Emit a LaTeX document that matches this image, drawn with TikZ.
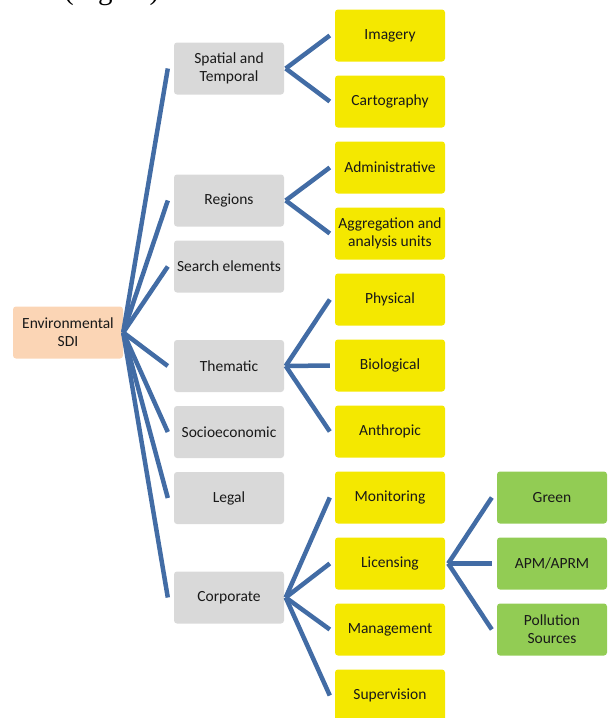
\documentclass[tikz,border=0pt]{standalone}
\usepackage{fontspec}
\setmainfont{Carlito}
\newfontfamily\captionserif{Liberation Serif}
\definecolor{rootfill}{RGB}{251,213,181}
\definecolor{catfill}{RGB}{217,217,217}
\definecolor{subfill}{RGB}{244,232,0}
\definecolor{leaffill}{RGB}{146,204,84}
\definecolor{linkblue}{RGB}{66,108,165}
\definecolor{labeltext}{RGB}{25,25,25}
\begin{document}
\begin{tikzpicture}[x=1pt,y=-1pt,
  box/.style={rectangle, rounded corners=3pt, minimum width=110pt, minimum height=52pt,
    inner sep=1pt, align=center, text=labeltext,
    font=\fontsize{15.5}{18}\selectfont},
  rootbox/.style={box, fill=rootfill},
  catbox/.style={box, fill=catfill},
  subbox/.style={box, fill=subfill},
  leafbox/.style={box, fill=leaffill},
  link/.style={draw=linkblue, line width=4.5pt}
]
\useasboundingbox (0,0) rectangle (608,718);
\clip (0,0) rectangle (608,718);

% caption line running off the top edge
\node[anchor=base west, inner sep=0pt, font=\captionserif\fontsize{29}{32}\selectfont]
  (caption) at (64,-1) {(Figure)};

% root
\node[rootbox] (root) at (68,332.5) {Environmental\\SDI};

% first level
\node[catbox] (spatial) at (229,68.5)  {Spatial and\\Temporal};
\node[catbox] (regions) at (229,200.5) {Regions};
\node[catbox] (search)  at (229,266.5) {Search elements};
\node[catbox] (thematic) at (229,366)  {Thematic};
\node[catbox] (socio)   at (229,432)   {Socioeconomic};
\node[catbox] (legal)   at (229,498)   {Legal};
\node[catbox] (corp)    at (229,597.5) {Corporate};

% second level
\node[subbox] (imagery) at (390,35.5)  {Imagery};
\node[subbox] (carto)   at (390,101.5) {Cartography};
\node[subbox] (admin)   at (390,167.5) {Administrative};
\node[subbox] (aggr)    at (390,233.5) {Aggregation and\\analysis units};
\node[subbox] (phys)    at (390,299.5) {Physical};
\node[subbox] (bio)     at (390,365.5) {Biological};
\node[subbox] (anthro)  at (390,431.5) {Anthropic};
\node[subbox] (monit)   at (390,497.5) {Monitoring};
\node[subbox] (licen)   at (390,563.5) {Licensing};
\node[subbox] (manag)   at (390,629.5) {Management};
\node[subbox] (superv)  at (390,695.5) {Supervision};

% third level
\node[leafbox] (green)  at (552,497.5) {Green};
\node[leafbox] (apm)    at (552,563.5) {APM/APRM};
\node[leafbox] (pollut) at (552,629.5) {Pollution\\Sources};

% connectors
\foreach \c in {spatial,regions,search,thematic,socio,legal,corp}
  \draw[link] (root.east) -- ([xshift=-6pt]\c.west);
\foreach \p/\c in {spatial/imagery,spatial/carto,regions/admin,regions/aggr,
    thematic/phys,thematic/bio,thematic/anthro,
    corp/monit,corp/licen,corp/manag,corp/superv}
  \draw[link] ([xshift=1.5pt]\p.east) -- ([xshift=-5pt]\c.west);
\foreach \c in {green,apm,pollut}
  \draw[link] ([xshift=3pt]licen.east) -- ([xshift=-5pt]\c.west);
\end{tikzpicture}
\end{document}
